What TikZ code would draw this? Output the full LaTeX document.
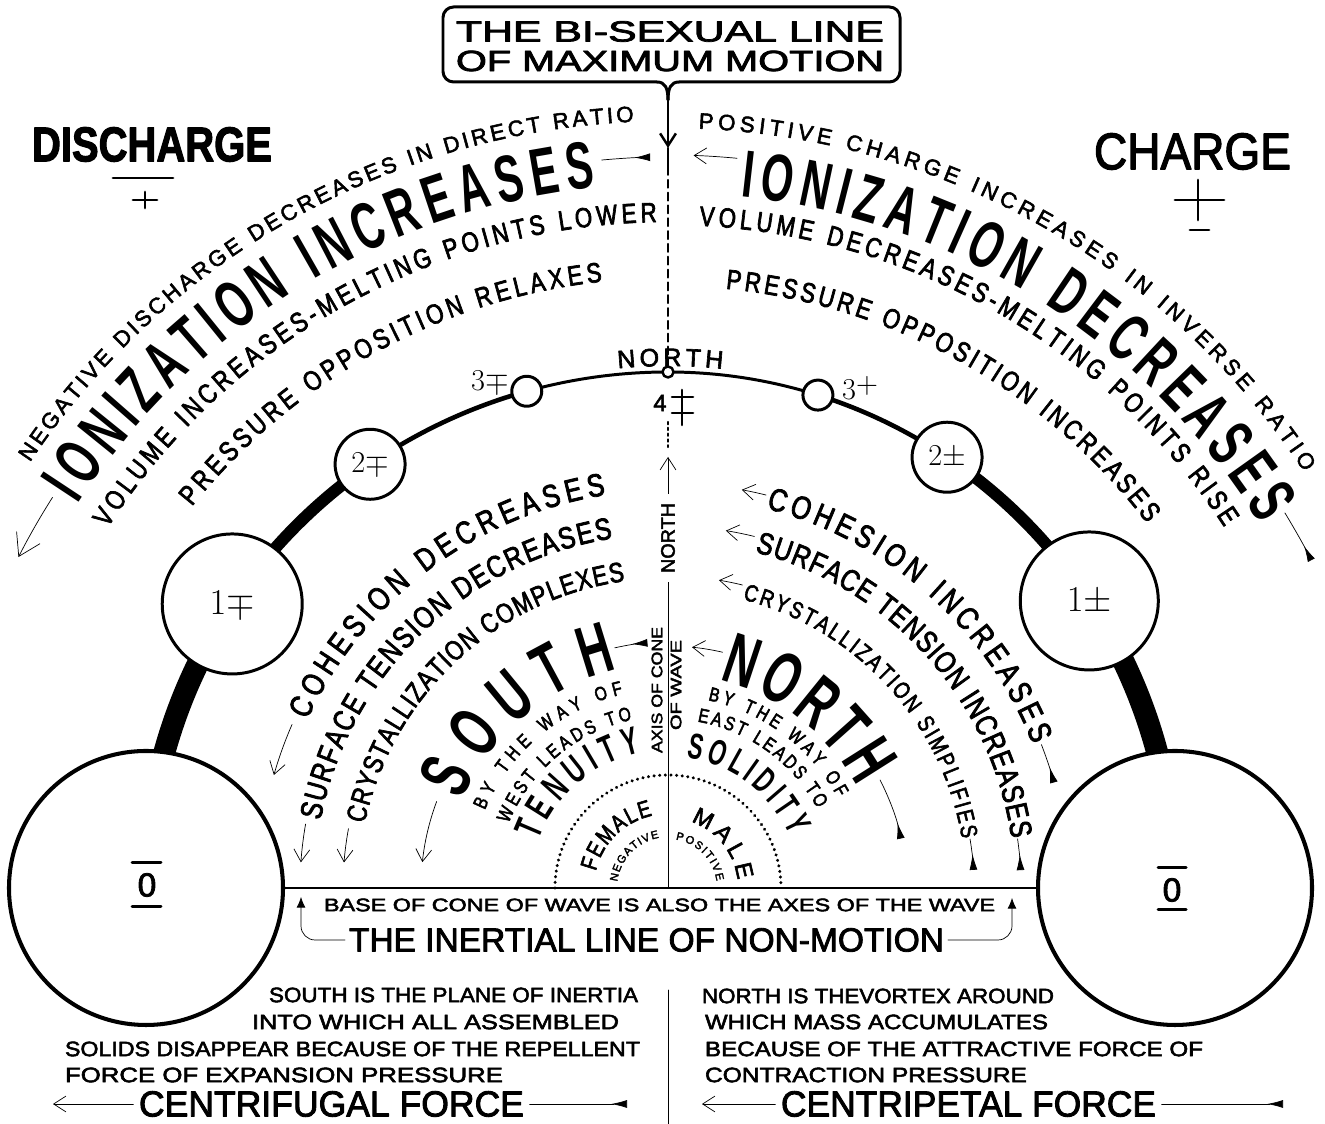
\documentclass[tikz,border=0pt]{standalone}
\usepackage{fontspec}
\usepackage{graphicx}
\setmainfont{Liberation Sans}
\newfontfamily\lett{Liberation Sans}[FakeBold=2.5]
\newfontfamily\lettn{Liberation Sans}[FakeStretch=0.8, FakeBold=2.5]
\newfontfamily\narr{Liberation Sans Bold}[FakeStretch=0.62]
\usetikzlibrary{arrows.meta, decorations.text}

\newlength\pxu
\setlength\pxu{0.02cm}
% cap height given in pixels of the drawing
\newcommand\capx[1]{\fontsize{\fpeval{0.7918*#1}pt}{\fpeval{1.2*#1}pt}\selectfont}
\newcommand\fitw[2]{\resizebox{#1\pxu}{\height}{#2}}
% lettering along a ring round (C): baseline radius, start, end, font, text
\newcommand\ringtext[5]{%
  \path[decorate, decoration={text along path, text align=fit to path,
      text={|#4|#5}}]
    ([shift={(#2:#1)}]C) arc[start angle=#2, end angle=#3, radius=#1];%
}
% flow arrow along a ring round (C): style, radius, start, end
\newcommand\ringarrow[4]{%
  \draw[#1] ([shift={(#3:#2)}]C) arc[start angle=#3, end angle=#4, radius=#2];%
}
\pgfdeclarelayer{back}
\pgfsetlayers{back,main}

\begin{document}
\begin{tikzpicture}[
  x=0.02cm,
  y=0.02cm,
  line cap=round,
  line join=round,
  line width=1.4pt,
  lab/.style={inner sep=0pt, font=\lett},
  ball/.style={circle, draw, fill=white, inner sep=0pt, line width=1.7pt},
  headarrow/.style={-{Straight Barb[length=7pt,width=9pt]}},
  bighead/.style={-{Straight Barb[length=12pt,width=15pt]}},
  tailarrow/.style={{Latex[reversed,length=9pt,width=4.5pt]}-},
  smallhead/.style={-{Latex[length=6pt,width=5pt]}}
]
  \useasboundingbox (0,0) rectangle (1325,1124);
  \coordinate (C) at (668,236);

  % Title box and the bi-sexual line coming down from it
  \node[draw, line width=1.7pt, rounded corners=6pt, minimum width=457\pxu,
        minimum height=75\pxu, inner sep=0pt] (title) at (671.5,1079.5) {};
  \node[lab] (titleA) at (670,1092.5) {\capx{21}\fitw{428}{THE BI-SEXUAL LINE}};
  \node[lab] (titleB) at (670,1063) {\capx{21}\fitw{428}{OF MAXIMUM MOTION}};
  \coordinate (tailtip) at (668,1024);
  \fill[white] (657,1039) rectangle (679,1045);
  \draw[line width=1.7pt] (657,1042) .. controls (665,1042) and (668,1036) .. (tailtip);
  \draw[line width=1.7pt] (679,1042) .. controls (671,1042) and (668,1036) .. (tailtip);
  \draw[headarrow] (tailtip) -- (668,976);
  \draw (668,976) -- (668,957);

  % Discharge and charge
  \node[lab] (discharge) at (152,979.5) {\bfseries\capx{35}\fitw{240}{DISCHARGE}};
  \draw[line width=1.6pt] (113,946) -- (173,946);
  \draw[line width=1.6pt] (133,924) -- (157,924) (145,932) -- (145,916);
  \node[lab] (charge) at (1192.5,972.5) {\capx{37}\fitw{197}{CHARGE}};
  \draw[line width=1.6pt] (1198,944) -- (1198,904) (1175,924) -- (1224,924);
  \draw[line width=1.6pt] (1190,894) -- (1209,894);

  % Octave of the wave: circles on the great arc
  \node[ball, line width=2.3pt, minimum size=274\pxu] (zeroL) at ([shift={(180:522 and 516)}]C) {};
  \node[ball, minimum size=140\pxu] (oneL) at ([shift={(146.6:522 and 516)}]C)
    {\fontsize{20pt}{24pt}\selectfont$1{\mp}$};
  \node[ball, minimum size=70\pxu] (twoL) at ([shift={(124.8:522 and 516)}]C)
    {\fontsize{17.5pt}{21pt}\selectfont$2{\mp}$};
  \node[ball, minimum size=30\pxu] (threeL) at ([shift={(105.7:522 and 516)}]C) {};
  \node[ball, line width=1.4pt, minimum size=11\pxu] (northpt) at ([shift={(90:522 and 516)}]C) {};
  \node[ball, minimum size=30\pxu] (threeR) at ([shift={(72.8:507 and 516)}]C) {};
  \node[ball, minimum size=70\pxu] (twoR) at ([shift={(56.6:507 and 516)}]C)
    {\fontsize{17.5pt}{21pt}\selectfont$2{\pm}$};
  \node[ball, minimum size=138\pxu] (oneR) at ([shift={(33.8:507 and 516)}]C)
    {\fontsize{20pt}{24pt}\selectfont$1{\pm}$};
  \node[ball, line width=2.3pt, minimum size=274\pxu] (zeroR) at ([shift={(0:507 and 516)}]C) {};

  \begin{pgfonlayer}{back}
    \draw[line width=12.5pt, line cap=butt] (zeroL.center)
      arc[start angle=180, end angle=146.6, x radius=522, y radius=516];
    \draw[line width=6.8pt, line cap=butt] (oneL.center)
      arc[start angle=146.6, end angle=124.8, x radius=522, y radius=516];
    \draw[line width=2.6pt] (twoL.center)
      arc[start angle=124.8, end angle=105.7, x radius=522, y radius=516];
    \draw[line width=1.7pt] (threeL.center)
      arc[start angle=105.7, end angle=90, x radius=522, y radius=516];
    \draw[line width=1.7pt] (northpt.center)
      arc[start angle=90, end angle=72.8, x radius=507, y radius=516];
    \draw[line width=2.6pt] (threeR.center)
      arc[start angle=72.8, end angle=56.6, x radius=507, y radius=516];
    \draw[line width=6.8pt, line cap=butt] (twoR.center)
      arc[start angle=56.6, end angle=33.8, x radius=507, y radius=516];
    \draw[line width=12.5pt, line cap=butt] (oneR.center)
      arc[start angle=33.8, end angle=0, x radius=507, y radius=516];
  \end{pgfonlayer}

  % Labels of the circles
  \node[lab] (zeroLtxt) at (147,239) {\capx{24}0};
  \draw[line width=1.7pt] ([shift={(-14,25)}]zeroL.center) -- ++(29,0);
  \draw[line width=1.7pt] ([shift={(-14,-19)}]zeroL.center) -- ++(29,0);
  \node[lab] (zeroRtxt) at (1172,234) {\capx{24}0};
  \draw[line width=1.7pt] ([shift={(-17,20)}]zeroR.center) -- ++(28,0);
  \draw[line width=1.7pt] ([shift={(-17,-22)}]zeroR.center) -- ++(28,0);
  \node[inner sep=0pt] (threeLtxt) at (490,742) {\fontsize{16pt}{19pt}\selectfont$3{\mp}$};
  \node[inner sep=0pt] (threeRtxt) at (860,736) {\fontsize{16pt}{19pt}\selectfont$3\raisebox{3pt}{$+$}$};
  \ringtext{522}{95.5}{84}{\lett\capx{18}}{NORTH}
  \node[lab] (four) at (660,721) {\capx{17}4};
  \draw[line width=1.5pt] (682,734) -- (682,699) (672,727) -- (693,727) (672,711) -- (693,711);

  % Axis of the cone of the wave
  \draw[dash pattern=on 4.5pt off 2.8pt, line width=1.2pt] (668,957) -- (northpt.north);
  \draw[dotted, line width=1.3pt] (668,702) -- (668,677);
  \draw[headarrow] (668,237) -- (668,667);
  \node[lab, rotate=90, fill=white, inner xsep=5pt, inner ysep=2pt] (axisnorth) at (668,586)
    {\capx{14}\fitw{70}{NORTH}};
  \node[lab, rotate=90] (axiscone) at (657,434) {\capx{11}\fitw{126}{AXIS OF CONE}};
  \node[lab, rotate=90] (axiswave) at (676,439) {\capx{11}\fitw{90}{OF WAVE}};

  % Female and male half circle
  \draw[dash pattern=on 0.01pt off 3.2pt, line width=1.9pt]
    ([shift={(180:113)}]C) arc[start angle=180, end angle=0, radius=113];

  % Outer rings, discharge side
  \ringtext{767}{146.3}{92.6}{\lett\capx{16}}{NEGATIVE DISCHARGE DECREASES IN DIRECT RATIO}
  \ringtext{704}{147.0}{95.9}{\narr\capx{48}}{IONIZATION INCREASES}
  \ringtext{666}{147.3}{91.0}{\lettn\capx{20}}{VOLUME INCREASES-MELTING POINTS LOWER}
  \ringtext{610}{141.3}{96.2}{\lettn\capx{20}}{PRESSURE OPPOSITION RELAXES}
  \ringarrow{bighead}{729}{147.6}{153}
  \ringarrow{tailarrow}{731}{91.4}{95.2}

  % Outer rings, charge side
  \ringtext{760}{87.7}{33.2}{\lett\capx{16}}{POSITIVE CHARGE INCREASES IN INVERSE RATIO}
  \ringtext{695}{84.0}{31.5}{\narr\capx{48}}{IONIZATION DECREASES}
  \ringtext{663}{87.3}{33.0}{\lettn\capx{20}}{VOLUME DECREASES-MELTING POINTS RISE}
  \ringtext{602}{84.5}{37.3}{\lettn\capx{20}}{PRESSURE OPPOSITION INCREASES}
  \ringarrow{headarrow}{733}{84.6}{88}
  \ringarrow{tailarrow}{722}{27}{31.3}

  % Inner rings, south side
  \ringtext{398}{155}{99}{\lettn\capx{23}}{COHESION DECREASES}
  \ringtext{354}{169}{99}{\lettn\capx{22}}{SURFACE TENSION DECREASES}
  \ringtext{310}{168}{98}{\lettn\capx{20}}{CRYSTALLIZATION COMPLEXES}
  \ringtext{224}{157}{103}{\narr\capx{52}}{SOUTH}
  \ringtext{199}{157}{103}{\lettn\capx{14}}{BY THE WAY OF}
  \ringtext{172}{158}{102}{\lettn\capx{14}}{WEST LEADS TO}
  \ringtext{138}{160}{101}{\narr\capx{28}}{TENUITY}
  \ringtext{74}{167}{102}{\lettn\capx{17}}{FEMALE}
  \ringtext{51}{173}{100}{\lett\capx{8}}{NEGATIVE}
  \ringarrow{headarrow}{410}{156.5}{164}
  \ringarrow{headarrow}{368}{170}{176}
  \ringarrow{headarrow}{325}{169.5}{175.5}
  \ringarrow{tailarrow}{246}{94.8}{102.5}
  \ringarrow{headarrow}{247}{159.5}{174}

  % Inner rings, north side
  \ringtext{392}{75.5}{21.5}{\lettn\capx{23}}{COHESION INCREASES}
  \ringtext{347}{75.5}{8.2}{\lettn\capx{22}}{SURFACE TENSION INCREASES}
  \ringtext{298}{75.5}{9.5}{\lettn\capx{17}}{CRYSTALLIZATION SIMPLIFIES}
  \ringtext{214}{76}{28}{\narr\capx{52}}{NORTH}
  \ringtext{192}{78}{28}{\lettn\capx{14}}{BY THE WAY OF}
  \ringtext{169}{80}{28}{\lettn\capx{14}}{EAST LEADS TO}
  \ringtext{132}{82}{23}{\narr\capx{26}}{SOLIDITY}
  \ringtext{70}{71}{6.5}{\lett\capx{17}}{MALE}
  \ringtext{49}{81}{8}{\lett\capx{8}}{POSITIVE}
  \ringarrow{headarrow}{405}{76}{79.5}
  \ringarrow{tailarrow}{400}{15.3}{21}
  \ringarrow{headarrow}{362}{76.2}{80.8}
  \ringarrow{tailarrow}{353}{2.9}{8}
  \ringarrow{headarrow}{312}{76.2}{80.6}
  \ringarrow{tailarrow}{306}{3.4}{9.2}
  \ringarrow{headarrow}{242}{77}{84.3}
  \ringarrow{tailarrow}{238}{12}{27}

  % Base of the cone: the inertial line
  \draw[line width=1.6pt] (zeroL.east) -- (zeroR.west);
  \node[lab] (basetxt) at (659.5,219) {\capx{13}\fitw{671}{BASE OF CONE OF WAVE IS ALSO THE AXES OF THE WAVE}};
  \node[lab] (inertial) at (646.5,184) {\capx{24}\fitw{595}{THE INERTIAL LINE OF NON-MOTION}};
  \draw[smallhead, rounded corners=8pt, shorten <=2pt] (inertial.west) -| (301,227);
  \draw[smallhead, rounded corners=8pt, shorten <=2pt] (inertial.east) -| (1012,226);

  % South and north explanations
  \draw (668,134) -- (668,0);
  \node[lab] (southA) at (453.5,129) {\capx{15}\fitw{369}{SOUTH IS THE PLANE OF INERTIA}};
  \node[lab] (southB) at (435.5,102) {\capx{15}\fitw{367}{INTO WHICH ALL ASSEMBLED}};
  \node[lab] (southC) at (352.5,75) {\capx{15}\fitw{575}{SOLIDS DISAPPEAR BECAUSE OF THE REPELLENT}};
  \node[lab] (southD) at (284,49) {\capx{15}\fitw{438}{FORCE OF EXPANSION PRESSURE}};
  \node[lab] (fugal) at (331.5,20) {\capx{26}\fitw{385}{CENTRIFUGAL FORCE}};
  \coordinate (fugalhead) at (53,20);
  \coordinate (fugaltail) at (627,20);
  \draw[headarrow, shorten <=3pt] (fugal.west) -- (fugalhead);
  \draw[tailarrow, shorten >=3pt] (fugaltail) -- (fugal.east);

  \node[lab] (northA) at (878,128) {\capx{15}\fitw{352}{NORTH IS THEVORTEX AROUND}};
  \node[lab] (northB) at (876.5,102) {\capx{15}\fitw{343}{WHICH MASS ACCUMULATES}};
  \node[lab] (northC) at (954,75) {\capx{15}\fitw{498}{BECAUSE OF THE ATTRACTIVE FORCE OF}};
  \node[lab] (northD) at (866,49) {\capx{15}\fitw{322}{CONTRACTION PRESSURE}};
  \node[lab] (petal) at (968.5,20) {\capx{26}\fitw{375}{CENTRIPETAL FORCE}};
  \coordinate (petalhead) at (702,20);
  \coordinate (petaltail) at (1283,20);
  \draw[headarrow, shorten <=3pt] (petal.west) -- (petalhead);
  \draw[tailarrow, shorten >=3pt] (petaltail) -- (petal.east);
\end{tikzpicture}
\end{document}
